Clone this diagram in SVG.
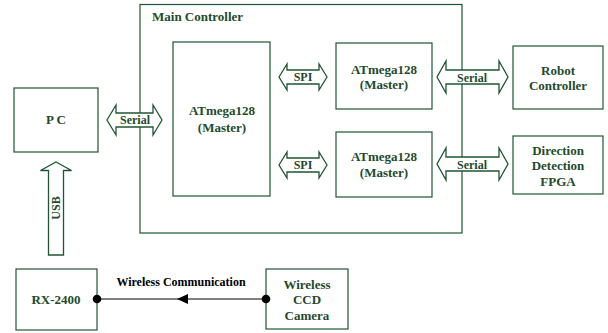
<svg xmlns="http://www.w3.org/2000/svg" width="608" height="333" viewBox="0 0 608 333" font-family="Liberation Serif, DejaVu Serif, serif">
<defs>
<style>
.box{fill:none;stroke:#1f5530;stroke-width:1.2}
.arr{fill:#fff;stroke:#1f5530;stroke-width:1.3;stroke-linejoin:miter}
.t{font-size:13px;font-weight:bold;fill:#1f4a2c;text-anchor:middle}
.l{font-size:12px;font-weight:bold;fill:#1f4a2c;text-anchor:middle}
.k{fill:#000}
</style>
</defs>
<rect width="608" height="333" fill="#fff"/>
<g id="main-controller">
<rect class="box" x="140" y="4.5" width="322" height="228.5"/>
<text class="t" font-family="Liberation Serif, serif" x="152" y="21" style="text-anchor:start">Main Controller</text>
</g>
<g id="pc">
<rect class="box" x="14" y="88" width="84" height="64"/>
<text class="t" font-family="Liberation Serif, serif" x="56" y="124">P  C</text>
</g>
<g id="atmega-main">
<rect class="box" x="173" y="42" width="97" height="154"/>
<text class="t" font-family="Liberation Serif, serif" x="222" y="115">ATmega128</text>
<text class="t" font-family="Liberation Serif, serif" x="222" y="132">(Master)</text>
</g>
<g id="atmega-top">
<rect class="box" x="336" y="43" width="96" height="66"/>
<text class="t" font-family="Liberation Serif, serif" x="384" y="74">ATmega128</text>
<text class="t" font-family="Liberation Serif, serif" x="384" y="89">(Master)</text>
</g>
<g id="atmega-bottom">
<rect class="box" x="336" y="132" width="96" height="65"/>
<text class="t" font-family="Liberation Serif, serif" x="384" y="161">ATmega128</text>
<text class="t" font-family="Liberation Serif, serif" x="384" y="177">(Master)</text>
</g>
<g id="robot-controller">
<rect class="box" x="513" y="46" width="90" height="63"/>
<text class="t" font-family="Liberation Serif, serif" x="558" y="75">Robot</text>
<text class="t" font-family="Liberation Serif, serif" x="558" y="90">Controller</text>
</g>
<g id="direction-fpga">
<rect class="box" x="513" y="136" width="90" height="58"/>
<text class="t" font-family="Liberation Serif, serif" x="558" y="155">Direction</text>
<text class="t" font-family="Liberation Serif, serif" x="558" y="170">Detection</text>
<text class="t" font-family="Liberation Serif, serif" x="558" y="186">FPGA</text>
</g>
<g id="rx2400">
<rect class="box" x="16" y="269" width="81" height="61"/>
<text class="t" font-family="Liberation Serif, serif" x="56" y="304">RX-2400</text>
</g>
<g id="wireless-camera">
<rect class="box" x="266" y="269" width="82" height="60"/>
<text class="t" font-family="Liberation Serif, serif" x="307" y="289">Wireless</text>
<text class="t" font-family="Liberation Serif, serif" x="307" y="304">CCD</text>
<text class="t" font-family="Liberation Serif, serif" x="307" y="320">Camera</text>
</g>
<g id="connectors">
<path class="arr" d="M107,120 L116,105 L116,113 L153,113 L153,105 L162,120 L153,135 L153,127 L116,127 L116,135 Z"/>
<text class="l" font-family="Liberation Serif, serif" x="135" y="124">Serial</text>
<path class="arr" d="M279,77 L287,64 L287,70 L319,70 L319,64 L327,77 L319,90 L319,84 L287,84 L287,90 Z"/>
<text class="l" font-family="Liberation Serif, serif" x="303" y="81">SPI</text>
<path class="arr" d="M279,165 L287,152 L287,158 L319,158 L319,152 L327,165 L319,178 L319,172 L287,172 L287,178 Z"/>
<text class="l" font-family="Liberation Serif, serif" x="303" y="169">SPI</text>
<path class="arr" d="M437,77 L446,61 L446,70 L499,70 L499,61 L508,77 L499,93 L499,84 L446,84 L446,93 Z"/>
<text class="l" font-family="Liberation Serif, serif" x="472" y="82">Serial</text>
<path class="arr" d="M437,164 L446,148 L446,157 L499,157 L499,148 L508,164 L499,180 L499,171 L446,171 L446,180 Z"/>
<text class="l" font-family="Liberation Serif, serif" x="472" y="169">Serial</text>
<path class="arr" d="M56,162 L71.5,170.5 L63.5,170.5 L63.5,255 L48.5,255 L48.5,170.5 L40.5,170.5 Z"/>
<text class="l" font-family="Liberation Serif, serif" transform="translate(60,208) rotate(-90)">USB</text>
<line x1="97" y1="299" x2="266" y2="299" stroke="#000" stroke-width="1.2"/>
<path d="M177,299 L188,294 L188,304 Z" fill="#000"/>
<circle cx="97" cy="299" r="4.3" fill="#000"/>
<circle cx="266" cy="299" r="4.3" fill="#000"/>
<text class="l k" font-family="Liberation Serif, serif" x="181" y="286">Wireless Communication</text>
</g>
</svg>
